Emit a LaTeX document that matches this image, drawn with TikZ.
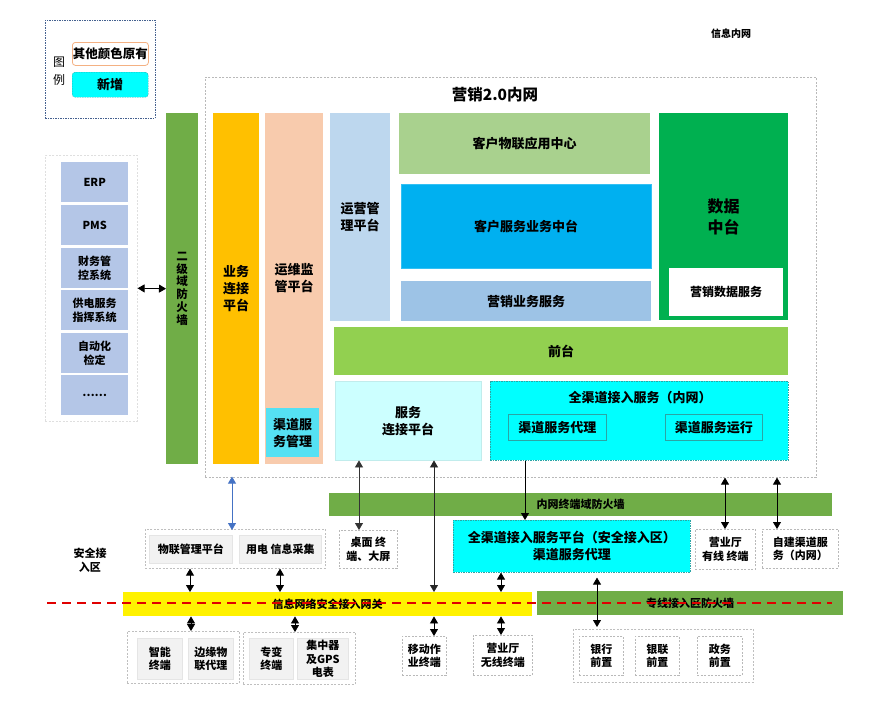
\documentclass[tikz,border=0pt]{standalone}
\usepackage{fontspec}
\setmainfont{Noto Sans CJK SC}
\usetikzlibrary{arrows.meta}
\definecolor{fwgreen}{HTML}{70AD47}
\definecolor{sysblue}{HTML}{B4C6E7}
\definecolor{ywyellow}{HTML}{FFC000}
\definecolor{ywpeach}{HTML}{F8CBAD}
\definecolor{qdcyan}{HTML}{55E1F3}
\definecolor{yyblue}{HTML}{BDD7EE}
\definecolor{iotgreen}{HTML}{A9D18E}
\definecolor{kfblue}{HTML}{00B0F0}
\definecolor{yxblue}{HTML}{9DC3E6}
\definecolor{datagreen}{HTML}{00B050}
\definecolor{qtgreen}{HTML}{92D050}
\definecolor{lcyan}{HTML}{CCFFFF}
\definecolor{newcyan}{HTML}{00FFFF}
\definecolor{tealline}{HTML}{2AA5A5}
\definecolor{redline}{HTML}{E00000}
\definecolor{lgblue}{HTML}{44608F}
\definecolor{orgline}{HTML}{F4B183}
\definecolor{arrblue}{HTML}{4472C4}
\begin{document}
\begin{tikzpicture}[x=1pt,y=-1pt,
  blk/.style={anchor=north west, inner sep=0pt, align=center, text=black,
    font=\bfseries\fontsize{12}{15}\selectfont},
  dbox/.style={blk, draw=gray!55, dash pattern=on 2pt off 1.5pt, line width=0.6pt},
  gbox/.style={blk, fill=gray!10, draw=gray!20, line width=0.6pt},
  txt/.style={inner sep=0pt, align=center, text=black, font=\bfseries\fontsize{12}{15}\selectfont},
  arr/.style={{Triangle[width=8pt,length=7pt]}-{Triangle[width=8pt,length=7pt]}, line width=0.8pt},
  sarr/.style={-{Triangle[width=8pt,length=7pt]}, line width=0.8pt},
  f11/.style={font=\bfseries\fontsize{11}{13.5}\selectfont},
  f13/.style={font=\bfseries\fontsize{13}{17}\selectfont},
]
\useasboundingbox[fill=white] (0,0) rectangle (892,704);

% legend
\node[anchor=north west, draw=lgblue, dash pattern=on 1.5pt off 1pt, line width=0.9pt,
  minimum width=110, minimum height=98] (lg) at (45,20) {};
\node[txt, font=\fontsize{12}{18}\selectfont] (lgt) at (59,71) {图\\例};
\node[blk, font=\bfseries\fontsize{12.5}{15}\selectfont, draw=orgline, rounded corners=3pt, line width=0.8pt, minimum width=76, minimum height=23] (lgold) at (72,42) {其他颜色原有};
\node[blk, f13, fill=newcyan, draw=tealline, dash pattern=on 1.5pt off 1pt, rounded corners=3pt, minimum width=76, minimum height=25] (lgnew) at (72,72) {新增};

\node[txt, font=\bfseries\fontsize{10}{12}\selectfont] (xxnw) at (731,34) {信息内网};

% main intranet box
\node[anchor=north west, draw=gray!55, dash pattern=on 2pt off 1.5pt, line width=0.6pt,
  minimum width=611, minimum height=400] (main) at (205,77) {};
\node[txt, font=\bfseries\fontsize{15.5}{18}\selectfont] (mtitle) at (495,95) {营销2.0内网};

% left systems
\node[anchor=north west, draw=gray!25, dash pattern=on 2pt off 1.5pt, line width=0.6pt,
  minimum width=92, minimum height=266] (lgrp) at (45,155) {};
\node[blk, f11, fill=sysblue, minimum width=67, minimum height=40] (erp) at (61,162) {ERP};
\node[blk, f11, fill=sysblue, minimum width=67, minimum height=40] (pms) at (61,205) {PMS};
\node[blk, f11, fill=sysblue, minimum width=67, minimum height=40] (cw) at (61,248) {财务管\\控系统};
\node[blk, f11, fill=sysblue, minimum width=67, minimum height=40] (gd) at (61,290) {供电服务\\指挥系统};
\node[blk, f11, fill=sysblue, minimum width=67, minimum height=40] (zdh) at (61,333) {自动化\\检定};
\node[blk, f11, fill=sysblue, minimum width=67, minimum height=40] (etc) at (61,375) {……};

% second-level firewall
\node[blk, font=\bfseries\fontsize{11.5}{12.8}\selectfont, fill=fwgreen, minimum width=32, minimum height=351] (fw) at (166,113) {二\\级\\域\\防\\火\\墙};
\draw[arr] (lgrp.east) -- (fw.west);

% vertical platforms
\node[blk, f13, fill=ywyellow, minimum width=46, minimum height=351] (ywlj) at (213,113) {业务\\连接\\平台};
\node[blk, f13, fill=ywpeach, minimum width=58, minimum height=351] (ywjg) at (265,113) {运维监\\管平台\\[6pt]};
\node[blk, f13, fill=qdcyan, minimum width=53, minimum height=49] (qdgl) at (266,408) {渠道服\\务管理};
\node[blk, f13, fill=yyblue, minimum width=60, minimum height=208] (yygl) at (330,113) {运营管\\理平台};

% center blocks
\node[blk, f13, fill=iotgreen, minimum width=251, minimum height=61] (iot) at (399,113) {客户物联应用中心};
\node[blk, f13, fill=kfblue, draw=kfblue!80!white, minimum width=250, minimum height=84] (kf) at (401,184) {客户服务业务中台};
\node[blk, f13, fill=yxblue, minimum width=250, minimum height=40] (yxyw) at (401,281) {营销业务服务};
\node[blk, font=\bfseries\fontsize{16}{21}\selectfont, fill=datagreen, minimum width=129, minimum height=207] (sj) at (659,113) {数据\\中台};
\node[blk, fill=white, minimum width=114, minimum height=48] (yxsj) at (669,268) {营销数据服务};
\node[blk, f13, fill=qtgreen, minimum width=454, minimum height=48] (qt) at (334,327) {前台};
\node[blk, f13, fill=lcyan, draw=lcyan!85!gray, minimum width=146, minimum height=79] (fwjk) at (335,381) {服务\\连接平台};
\node[blk, fill=newcyan, draw=tealline, dash pattern=on 1.5pt off 1pt, line width=0.6pt, minimum width=298, minimum height=79] (qqd) at (490,381) {};
\node[txt, f13] (qqdt) at (640,398) {全渠道接入服务（内网）};
\node[blk, f13, draw=tealline, line width=0.6pt, minimum width=98, minimum height=26] (qdfd) at (508,414) {渠道服务代理};
\node[blk, f13, draw=tealline, line width=0.6pt, minimum width=97, minimum height=26] (qdyx) at (665,414) {渠道服务运行};

% intranet terminal firewall
\node[blk, f11, fill=fwgreen, minimum width=503, minimum height=23] (nwfw) at (329,493) {内网终端域防火墙};

% security access zone
\node[blk, f13, fill=newcyan, draw=tealline, dash pattern=on 1.5pt off 1pt, line width=0.6pt, minimum width=237, minimum height=52] (qqp) at (453,520) {全渠道接入服务平台（安全接入区）\\渠道服务代理};
\node[dbox, f11, minimum width=58, minimum height=38] (desk) at (339,530) {桌面 终\\端、大屏};
\node[dbox, f11, minimum width=60, minimum height=40] (yyyx) at (695,529) {营业厅\\有线 终端};
\node[dbox, f11, minimum width=76, minimum height=39] (zjqd) at (762,529) {自建渠道服\\务（内网）};
\node[txt, f11] (aqq) at (90,560) {安全接\\入区};

\node[dbox, draw=gray!50, minimum width=180, minimum height=39] (grpT) at (145,529) {};
\node[gbox, f11, minimum width=83, minimum height=28] (wlgl) at (149,535) {物联管理平台};
\node[gbox, f11, minimum width=82, minimum height=28] (ydxx) at (239,535) {用电 信息采集};

% gateways
\node[blk, f11, fill=yellow, minimum width=409, minimum height=24] (ygw) at (123,592) {信息网络安全接入网关};
\node[blk, f11, fill=fwgreen, minimum width=306, minimum height=24] (zxfw) at (537,591) {专线接入区防火墙};
\coordinate (rl) at (47,603);
\coordinate (rr) at (832,603);
\draw[redline, dash pattern=on 9pt off 6pt, line width=1.1pt] (rl) -- (rr);

% bottom terminals
\node[dbox, draw=gray!50, minimum width=112, minimum height=52] (g1) at (127,631) {};
\node[gbox, f11, minimum width=45, minimum height=41] (znzd) at (137,638) {智能\\终端};
\node[gbox, f11, minimum width=45, minimum height=41] (byzl) at (188,638) {边缘物\\联代理};
\node[dbox, draw=gray!50, minimum width=112, minimum height=52] (g2) at (243,632) {};
\node[gbox, f11, minimum width=44, minimum height=41] (zbzd) at (249,638) {专变\\终端};
\node[gbox, f11, minimum width=51, minimum height=41] (jzq) at (297,638) {集中器\\及GPS\\电表};
\node[dbox, f11, minimum width=44, minimum height=39] (mob) at (402,636) {移动作\\业终端};
\node[dbox, f11, minimum width=59, minimum height=40] (yywx) at (473,635) {营业厅\\无线终端};
\node[dbox, draw=gray!50, minimum width=180, minimum height=53] (g3) at (573,629) {};
\node[dbox, f11, minimum width=44, minimum height=39] (yhqz) at (579,636) {银行\\前置};
\node[dbox, f11, minimum width=44, minimum height=39] (ylqz) at (635,636) {银联\\前置};
\node[dbox, f11, minimum width=45, minimum height=39] (zwqz) at (697,636) {政务\\前置};

% arrow columns
\coordinate (c190) at (190,0);
\coordinate (c191) at (191,0);
\coordinate (c232) at (232,0);
\coordinate (c280) at (280,0);
\coordinate (c295) at (295,0);
\coordinate (c359) at (359,0);
\coordinate (c434) at (434,0);
\coordinate (c501) at (501,0);
\coordinate (c525) at (525,0);
\coordinate (c597) at (597,0);
\coordinate (c725) at (725,0);
\coordinate (c777) at (777,0);

\draw[arr, draw=arrblue, fill=arrblue] ([yshift=1pt]main.south -| c232) -- ([yshift=-1pt]grpT.north -| c232);
\draw[arr] (grpT.south -| c190) -- (ygw.north -| c190);
\draw[arr] (grpT.south -| c280) -- (ygw.north -| c280);
\draw[arr] (ygw.south -| c191) -- (g1.north -| c191);
\draw[arr] (ygw.south -| c295) -- (g2.north -| c295);
\draw[arr, black!80] (fwjk.south -| c359) -- (desk.north -| c359);
\draw[arr, black!85] (fwjk.south -| c434) -- (ygw.north -| c434);
\draw[arr] (ygw.south -| c434) -- (mob.north -| c434);
\draw[sarr] (qqd.south -| c525) -- (qqp.north -| c525);
\draw[arr] (qqp.south -| c501) -- (ygw.north -| c501);
\draw[arr] (ygw.south -| c501) -- (yywx.north -| c501);
\draw[arr, shorten <=5pt, shorten >=2pt] (qqp.south -| c597) -- (g3.north -| c597);
\draw[arr] (main.south -| c725) -- (yyyx.north -| c725);
\draw[arr] (main.south -| c777) -- (zjqd.north -| c777);
\end{tikzpicture}
\end{document}
